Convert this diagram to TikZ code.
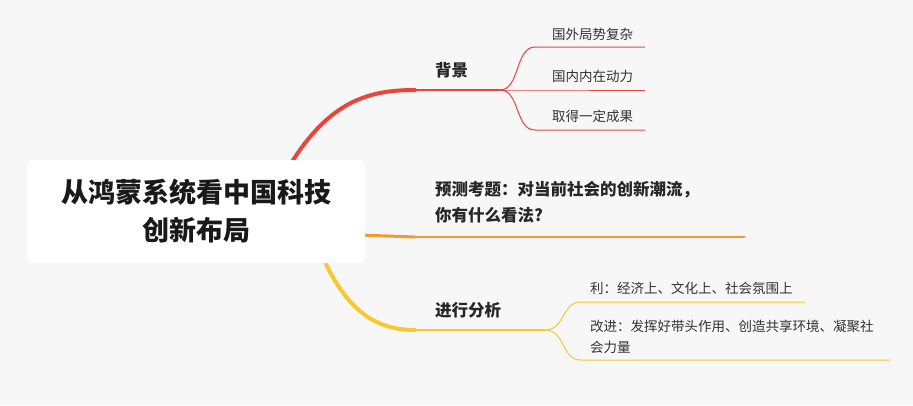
\documentclass[tikz,border=0pt]{standalone}
\usepackage{fontspec}
\newfontfamily\cjk{Noto Sans CJK SC}
\begin{document}
\begin{tikzpicture}[x=1pt,y=-1pt,
  sub/.style={font=\cjk\fontsize{13.5}{16}\selectfont,text=black!80,anchor=west,inner sep=0},
  main/.style={font=\cjk\bfseries\fontsize{16.5}{22}\selectfont,text=black!85,anchor=west,inner sep=0,align=left}]
\fill[gray!6] (0,0) rectangle (913,405);
\useasboundingbox (0,0) rectangle (913,405);
\definecolor{cr}{HTML}{E8453C}
\definecolor{co}{HTML}{F39A33}
\definecolor{cy}{HTML}{F7C830}
% branches
\coordinate (r0) at (290,165); \coordinate (r1) at (415,90); \coordinate (r2) at (500,90);
\draw[cr,line width=4pt,line cap=round] (r0) .. controls (330,100) and (370,90) .. (r1);
\draw[cr,line width=1.5pt] (r1) -- (r2);
\coordinate (o0) at (360,235); \coordinate (o1) at (415,237); \coordinate (o2) at (745,237);
\draw[co,line width=3pt] (o0) -- (o1);
\draw[co,line width=1.5pt] (o1) -- (o2);
\coordinate (y0) at (325,262); \coordinate (y1) at (415,330); \coordinate (y2) at (545,330);
\draw[cy,line width=4pt,line cap=round] (y0) .. controls (350,315) and (380,330) .. (y1);
\draw[cy,line width=1.5pt] (y1) -- (y2);
% red subs
\foreach \yy/\n in {47/a,90/b,130/c}{
  \coordinate (s\n) at (535,\yy);
  \draw[cr,line width=1pt] (r2) .. controls (520,90) and (515,\yy) .. (s\n) -- (645,\yy);
}
\node[sub] (ta) at (552,34) {国外局势复杂};
\node[sub] (tb) at (552,76) {国内内在动力};
\node[sub] (tc) at (552,116) {取得一定成果};
% yellow subs
\coordinate (ya) at (580,302); \coordinate (yb) at (580,360);
\draw[cy,line width=1pt] (y2) .. controls (565,330) and (562,302) .. (ya) -- (805,302);
\draw[cy,line width=1pt] (y2) .. controls (565,330) and (562,360) .. (yb) -- (890,360);
\node[sub] (ua) at (590,288) {利：经济上、文化上、社会氛围上};
\node[sub,align=left,font=\cjk\fontsize{13.5}{21}\selectfont] (ub) at (590,337) {改进：发挥好带头作用、创造共享环境、凝聚社\\会力量};
% labels
\node[main] (m1) at (435,70) {背景};
\node[main,font=\cjk\bfseries\fontsize{16.5}{26}\selectfont] (m2) at (435,202) {预测考题：对当前社会的创新潮流，\\你有什么看法?};
\node[main] (m3) at (435,310) {进行分析};
% central
\node[fill=white,rounded corners=6pt,minimum width=338,minimum height=103,
  font=\cjk\bfseries\fontsize{27}{38}\selectfont,align=center,text=black!90] (c) at (196,211.5)
  {从鸿蒙系统看中国科技\\创新布局};
\end{tikzpicture}
\end{document}
